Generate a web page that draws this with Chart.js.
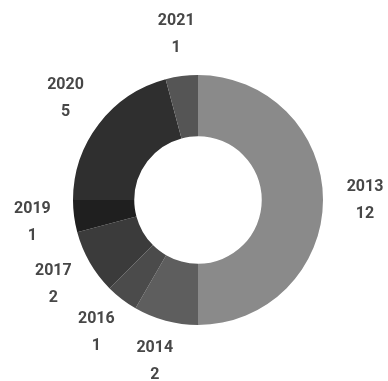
<!DOCTYPE html>
<html>
<head>
<meta charset="utf-8">
<script src="https://cdn.jsdelivr.net/npm/chart.js@4"></script>
<style>
  html, body { margin: 0; padding: 0; background: #fff; }
  #wrap { width: 388px; height: 381px; }
</style>
</head>
<body>
<div id="wrap"><canvas id="anosChart" width="388" height="381"></canvas></div>
<script>
// Dados
const anos = ['2013', '2014', '2016', '2017', '2019', '2020', '2021'];
const quantidades = [12, 2, 1, 2, 1, 5, 1];
const cores = ['#8a8a8a', '#5e5e5e', '#4b4b4b', '#3b3b3b', '#1f1f1f', '#2f2f2f', '#555555'];

// Plugin para desenhar os rótulos fora do anel
const rotulosExternos = {
    id: 'rotulosExternos',
    afterDatasetsDraw(chart) {
        const ctx = chart.ctx;
        const meta = chart.getDatasetMeta(0);
        ctx.save();
        ctx.font = 'bold 16px Roboto';
        ctx.fillStyle = '#474747';
        ctx.textAlign = 'center';
        ctx.textBaseline = 'middle';
        meta.data.forEach((arc, i) => {
            const p = arc.getProps(['x', 'y', 'startAngle', 'endAngle', 'outerRadius'], true);
            const meio = (p.startAngle + p.endAngle) / 2;
            const r = p.outerRadius + 42;
            const x = p.x + Math.cos(meio) * r;
            const y = p.y + Math.sin(meio) * r;
            ctx.fillText(anos[i], x, y - 13);
            ctx.fillText(String(quantidades[i]), x, y + 14);
        });
        ctx.restore();
    }
};

new Chart(document.getElementById('anosChart'), {
    type: 'doughnut',
    data: {
        labels: anos,
        datasets: [{
            data: quantidades,
            backgroundColor: cores,
            borderWidth: 0
        }]
    },
    options: {
        responsive: false,
        animation: false,
        cutout: '51%',
        layout: {
            padding: { top: 75, bottom: 56, left: 73, right: 65 }
        },
        plugins: {
            legend: { display: false },
            tooltip: { enabled: false }
        }
    },
    plugins: [rotulosExternos]
});
</script>
</body>
</html>
